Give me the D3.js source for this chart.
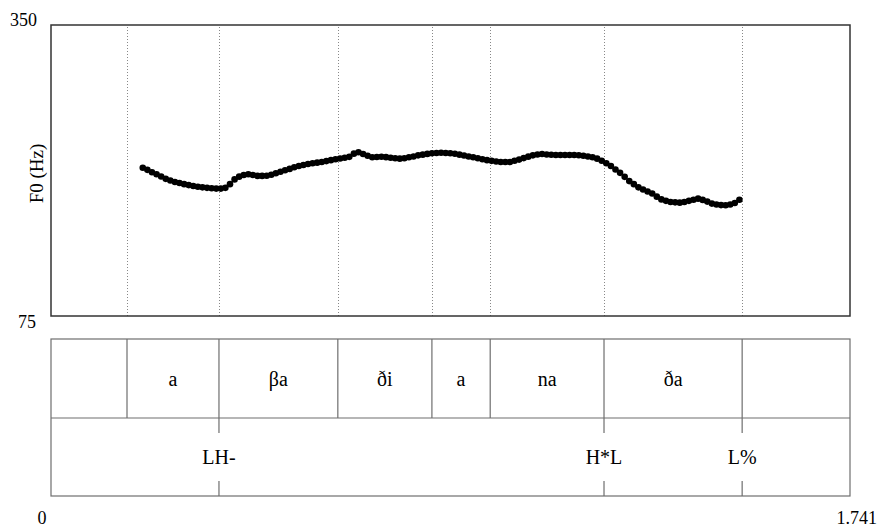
<!DOCTYPE html>
<html>
<head>
<meta charset="utf-8">
<script src="https://cdn.jsdelivr.net/npm/d3@7"></script>
<style>
  html, body { margin: 0; padding: 0; background: #fff; }
  svg { display: block; font-family: "Liberation Serif", "Times New Roman", serif; }
</style>
</head>
<body>
<svg id="chart" width="879" height="527"></svg>
<script>
// total duration and F0 axis range
const duration = 1.741;
const f0Range = [75, 350];

// F0 track, one value every 10 ms from 0.20 s to 1.50 s
const f0Start = 0.20;
const f0Step = 0.01;
const f0Values = [
  215.1, 213.1, 210.9, 208.9, 206.8, 204.6, 203.0, 201.7, 200.7, 199.6,
  198.7, 197.9, 197.2, 196.6, 196.1, 195.7, 195.4, 195.4, 196.1, 199.6,
  204.1, 206.7, 208.2, 208.9, 208.2, 207.4, 207.4, 207.6, 208.5, 209.9,
  211.3, 212.7, 214.0, 215.6, 216.8, 217.7, 218.6, 219.3, 219.9, 220.5,
  221.4, 222.3, 223.2, 223.8, 224.5, 225.4, 228.4, 229.8, 228.1, 226.5,
  225.0, 225.3, 225.5, 225.1, 224.5, 224.1, 223.7, 224.1, 225.0, 225.8,
  226.8, 227.5, 228.2, 228.8, 229.0, 229.3, 229.1, 228.8, 228.3, 227.5,
  226.7, 225.8, 225.0, 224.1, 223.2, 222.3, 221.6, 221.0, 220.5, 220.5,
  220.5, 221.7, 222.8, 224.2, 225.6, 226.8, 227.6, 228.1, 227.6, 227.4,
  227.2, 227.1, 227.1, 227.1, 227.1, 226.9, 226.4, 225.8, 225.0, 223.7,
  221.7, 219.4, 216.8, 213.5, 210.3, 206.5, 202.5, 199.6, 196.6, 194.5,
  192.6, 190.8, 187.8, 185.2, 183.8, 182.7, 182.4, 182.1, 182.7, 183.8,
  184.8, 185.9, 184.7, 183.1, 181.2, 180.4, 179.8, 179.7, 180.3, 181.8,
  184.9
];

// syllable tier
const syllBounds = [0, 0.1656, 0.366, 0.625, 0.830, 0.957, 1.205, 1.506, 1.741];
const syllLabels = ['', 'a', 'βa', 'ði', 'a', 'na', 'ða', ''];

// tone tier (point tier)
const toneTimes = [0.366, 1.205, 1.506];
const toneLabels = ['LH-', 'H*L', 'L%'];

const svg = d3.select('#chart');

const LEFT = 51, RIGHT = 850;
const PLOT_TOP = 25, PLOT_BOTTOM = 316;
const TIER_TOP = 339, TIER_MID = 418, TIER_BOTTOM = 496;
const TICK = 15;

const x = d3.scaleLinear().domain([0, duration]).range([LEFT, RIGHT]);
const y = d3.scaleLinear().domain(f0Range).range([PLOT_BOTTOM, PLOT_TOP]);

const points = f0Values.map((v, i) => ({ t: f0Start + i * f0Step, f: v }));
const innerBounds = syllBounds.slice(1, -1);

// dotted interval boundaries in the pitch panel
svg.append('g')
  .selectAll('line')
  .data(innerBounds)
  .join('line')
  .attr('x1', d => Math.round(x(d)) + 0.5)
  .attr('x2', d => Math.round(x(d)) + 0.5)
  .attr('y1', PLOT_TOP + 2)
  .attr('y2', PLOT_BOTTOM)
  .attr('stroke', '#888')
  .attr('stroke-width', 1)
  .attr('stroke-dasharray', '1,2');

// F0 dots
svg.append('g')
  .selectAll('circle')
  .data(points)
  .join('circle')
  .attr('cx', d => x(d.t))
  .attr('cy', d => y(d.f))
  .attr('r', 3.3)
  .attr('fill', '#000');

// pitch frame
svg.append('rect')
  .attr('x', LEFT).attr('y', PLOT_TOP)
  .attr('width', RIGHT - LEFT).attr('height', PLOT_BOTTOM - PLOT_TOP)
  .attr('fill', 'none')
  .attr('stroke', '#333')
  .attr('stroke-width', 1.5);

// y range labels
svg.append('text')
  .attr('x', 37).attr('y', y(f0Range[1]) + 1)
  .attr('text-anchor', 'end')
  .attr('font-size', 18)
  .text(f0Range[1]);
svg.append('text')
  .attr('x', 36).attr('y', y(f0Range[0]) + 12)
  .attr('text-anchor', 'end')
  .attr('font-size', 18)
  .text(f0Range[0]);

svg.append('text')
  .attr('transform', `translate(43, ${(PLOT_TOP + PLOT_BOTTOM) / 2 + 3}) rotate(-90)`)
  .attr('text-anchor', 'middle')
  .attr('font-size', 19)
  .text('F0 (Hz)');

// tier boxes
const tiers = svg.append('g')
  .attr('stroke', '#6e6e6e')
  .attr('stroke-width', 1.2)
  .attr('fill', 'none');

tiers.append('rect')
  .attr('x', LEFT).attr('y', TIER_TOP)
  .attr('width', RIGHT - LEFT).attr('height', TIER_BOTTOM - TIER_TOP);
tiers.append('line')
  .attr('x1', LEFT).attr('x2', RIGHT)
  .attr('y1', TIER_MID).attr('y2', TIER_MID);

tiers.selectAll('line.bound')
  .data(innerBounds)
  .join('line')
  .attr('class', 'bound')
  .attr('x1', d => x(d)).attr('x2', d => x(d))
  .attr('y1', TIER_TOP).attr('y2', TIER_MID);

tiers.selectAll('line.tone-top')
  .data(toneTimes)
  .join('line')
  .attr('class', 'tone-top')
  .attr('x1', d => x(d)).attr('x2', d => x(d))
  .attr('y1', TIER_MID).attr('y2', TIER_MID + TICK);

tiers.selectAll('line.tone-bot')
  .data(toneTimes)
  .join('line')
  .attr('class', 'tone-bot')
  .attr('x1', d => x(d)).attr('x2', d => x(d))
  .attr('y1', TIER_BOTTOM - TICK).attr('y2', TIER_BOTTOM);

// tier labels
const syllData = syllLabels.map((l, i) => ({ label: l, t0: syllBounds[i], t1: syllBounds[i + 1] }));
svg.append('g')
  .selectAll('text')
  .data(syllData.filter(d => d.label))
  .join('text')
  .attr('x', d => x((d.t0 + d.t1) / 2))
  .attr('y', (TIER_TOP + TIER_MID) / 2)
  .attr('dy', '0.35em')
  .attr('text-anchor', 'middle')
  .attr('font-size', 20)
  .text(d => d.label);

svg.append('g')
  .selectAll('text')
  .data(toneTimes.map((t, i) => ({ t, label: toneLabels[i] })))
  .join('text')
  .attr('x', d => x(d.t))
  .attr('y', (TIER_MID + TIER_BOTTOM) / 2)
  .attr('dy', '0.35em')
  .attr('text-anchor', 'middle')
  .attr('font-size', 20)
  .text(d => d.label);

// time range labels
svg.append('text')
  .attr('x', 42).attr('y', 524)
  .attr('text-anchor', 'middle')
  .attr('font-size', 18)
  .text('0');
svg.append('text')
  .attr('x', 877).attr('y', 524)
  .attr('text-anchor', 'end')
  .attr('font-size', 18)
  .text(d3.format('.3f')(duration));
</script>
</body>
</html>
